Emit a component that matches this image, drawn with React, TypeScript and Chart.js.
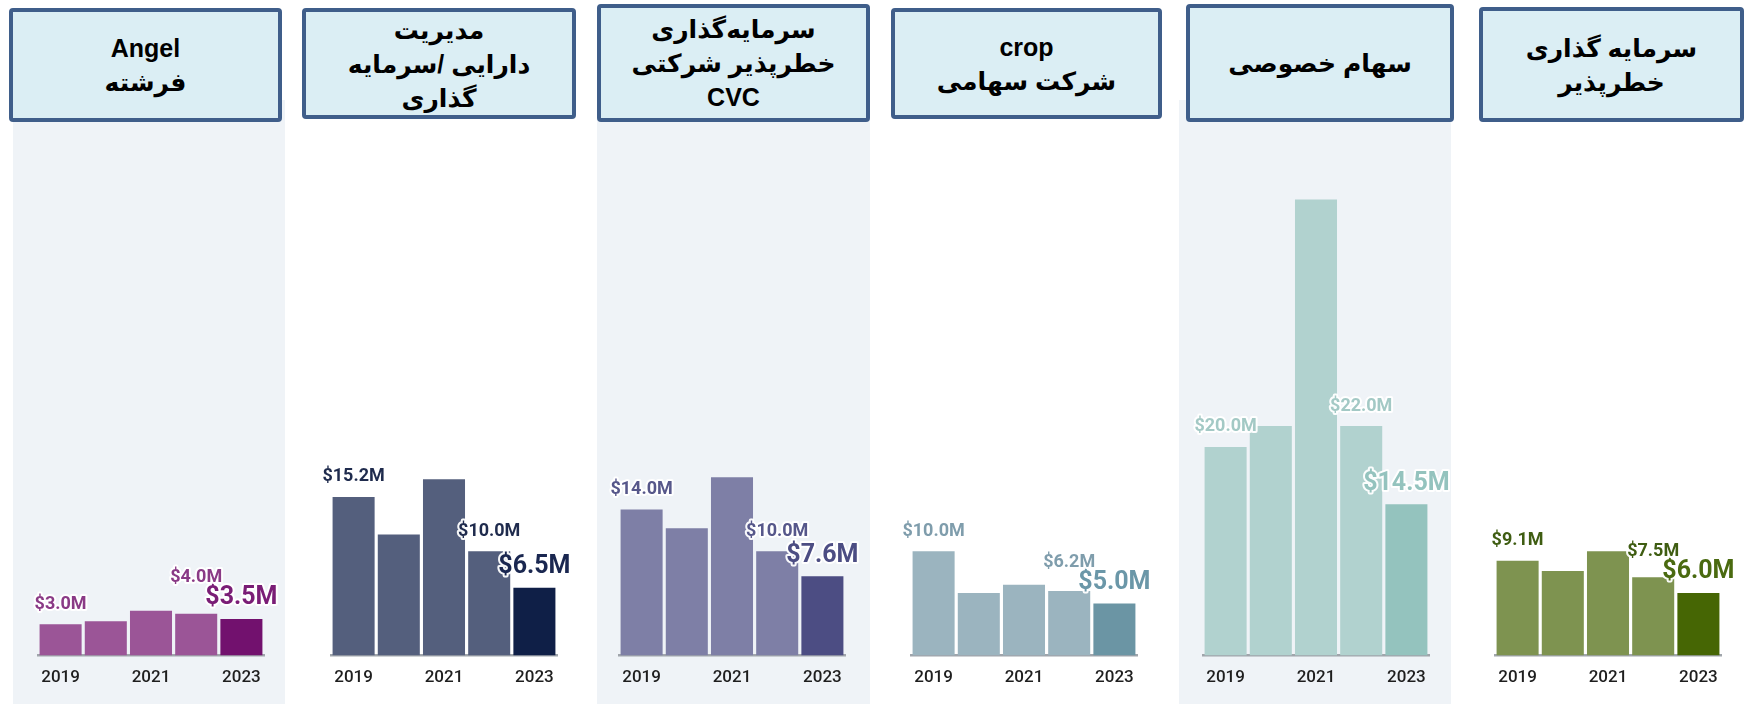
import React, { useEffect, useRef } from 'react';
import { Chart, registerables } from 'chart.js';

Chart.register(...registerables);

// ---------- data ----------
const years = ['2019', '2020', '2021', '2022', '2023'];
const shownYearIndices = [0, 2, 4];
const labeledIndices = [0, 3, 4];

const angelValues = [3.0, 3.3, 4.3, 4.0, 3.5];
const assetManagementValues = [15.2, 11.6, 16.9, 10.0, 6.5];
const cvcValues = [14.0, 12.2, 17.1, 10.0, 7.6];
const corpValues = [10.0, 6.0, 6.8, 6.2, 5.0];
const privateEquityValues = [20.0, 22.0, 43.7, 22.0, 14.5];
const ventureValues = [9.1, 8.1, 10.0, 7.5, 6.0];

const angelTitle = ['Angel', 'فرشته'];
const assetManagementTitle = ['مدیریت', 'دارایی /سرمایه', 'گذاری'];
const cvcTitle = ['سرمایه‌گذاری', 'خطرپذیر شرکتی', 'CVC'];
const corpTitle = ['crop', 'شرکت سهامی'];
const privateEquityTitle = ['سهام خصوصی'];
const ventureTitle = ['سرمایه گذاری', 'خطرپذیر'];

const Y_MAX = 45;

// ---------- layout / style ----------
type Panel = {
  values: number[];
  title: string[];
  bar: string;
  last: string;
  label: string;
  bigLabel: string;
  areaLeft: number;
  box: { x: number; y: number; w: number; h: number };
  shade: { x: number; w: number } | null;
};

const panels: Panel[] = [
  { values: angelValues, title: angelTitle, bar: '#9b5597', last: '#72116e', label: '#8a3a86', bigLabel: '#7a1d76',
    areaLeft: 38, box: { x: 9, y: 8, w: 273, h: 114 }, shade: { x: 13, w: 272 } },
  { values: assetManagementValues, title: assetManagementTitle, bar: '#545f7d', last: '#0f1f47', label: '#1f2b4d', bigLabel: '#1a2750',
    areaLeft: 331, box: { x: 302, y: 8, w: 274, h: 111 }, shade: null },
  { values: cvcValues, title: cvcTitle, bar: '#7e7fa6', last: '#4c4d83', label: '#56578a', bigLabel: '#4c4d83',
    areaLeft: 619, box: { x: 597, y: 4, w: 273, h: 118 }, shade: { x: 597, w: 273 } },
  { values: corpValues, title: corpTitle, bar: '#9bb4bf', last: '#6b95a4', label: '#7f9dac', bigLabel: '#6b97a8',
    areaLeft: 911, box: { x: 891, y: 8, w: 271, h: 111 }, shade: null },
  { values: privateEquityValues, title: privateEquityTitle, bar: '#b1d2cf', last: '#94c3be', label: '#a3c9c5', bigLabel: '#94c3be',
    areaLeft: 1203, box: { x: 1186, y: 4, w: 268, h: 118 }, shade: { x: 1179, w: 272 } },
  { values: ventureValues, title: ventureTitle, bar: '#7e9350', last: '#466604', label: '#3f5d12', bigLabel: '#4a6a10',
    areaLeft: 1495, box: { x: 1479, y: 7, w: 265, h: 115 }, shade: null },
];

const AREA_WIDTH = 226;
const SIDE_PAD = 32;
const CANVAS_TOP = 150;
const CANVAS_HEIGHT = 554;

const valueLabelPlugin = {
  id: 'valueLabels',
  afterDatasetsDraw(chart: any, _args: any, opts: any) {
    const ctx = chart.ctx;
    const meta = chart.getDatasetMeta(0);
    const data = chart.data.datasets[0].data as number[];
    const boxes: { x1: number; x2: number; y1: number; y2: number }[] = [];
    const order = [...labeledIndices].sort((a, b) => b - a);
    for (const i of order) {
      const bar = meta.data[i];
      const big = i === data.length - 1;
      const size = big ? 25 : 18;
      ctx.save();
      ctx.font = `bold ${size}px Roboto`;
      const text = `$${data[i].toFixed(1)}M`;
      const w = ctx.measureText(text).width;
      const h = size * 0.8;
      let cy = bar.y - (big ? 21 : 20);
      for (const b of boxes) {
        const ox = bar.x - w / 2 < b.x2 && bar.x + w / 2 > b.x1;
        if (ox && cy + h / 2 > b.y1 - 2 && cy - h / 2 < b.y2) cy = b.y1 - 3 - h / 2;
      }
      boxes.push({ x1: bar.x - w / 2, x2: bar.x + w / 2, y1: cy - h / 2, y2: cy + h / 2 });
      ctx.textAlign = 'center';
      ctx.textBaseline = 'middle';
      ctx.lineJoin = 'round';
      ctx.strokeStyle = 'rgba(255,255,255,0.95)';
      ctx.lineWidth = 4;
      ctx.strokeText(text, bar.x, cy);
      ctx.fillStyle = big ? opts.bigColor : opts.color;
      ctx.fillText(text, bar.x, cy);
      ctx.restore();
    }
  },
};

function PanelChart({ panel }: { panel: Panel }) {
  const ref = useRef<HTMLCanvasElement>(null);
  useEffect(() => {
    if (!ref.current) return;
    const colors = panel.values.map((_, i) => (i === panel.values.length - 1 ? panel.last : panel.bar));
    const chart = new Chart(ref.current, {
      type: 'bar',
      data: {
        labels: years,
        datasets: [
          {
            data: panel.values,
            backgroundColor: colors,
            borderWidth: 0,
            barPercentage: 0.93,
            categoryPercentage: 1.0,
          },
        ],
      },
      options: {
        animation: false,
        responsive: false,
        maintainAspectRatio: false,
        layout: { padding: { left: SIDE_PAD, right: SIDE_PAD, top: 36, bottom: 4 } },
        plugins: {
          legend: { display: false },
          tooltip: { enabled: false },
          valueLabels: { color: panel.label, bigColor: panel.bigLabel },
        } as any,
        scales: {
          x: {
            grid: { display: false, drawTicks: false },
            border: { display: true, color: '#a0a5ab', width: 2.5 },
            ticks: {
              autoSkip: false,
              maxRotation: 0,
              padding: 12,
              color: '#1e1e1e',
              font: { family: 'Roboto', size: 17, weight: '500' },
              callback: (_v: any, i: number) => (shownYearIndices.includes(i) ? years[i] : ''),
            },
          },
          y: { display: false, min: 0, max: Y_MAX },
        },
      },
      plugins: [valueLabelPlugin],
    });
    return () => chart.destroy();
  }, [panel]);
  return (
    <canvas
      ref={ref}
      width={AREA_WIDTH + SIDE_PAD * 2}
      height={CANVAS_HEIGHT}
      style={{ position: 'absolute', left: panel.areaLeft - SIDE_PAD, top: CANVAS_TOP, width: AREA_WIDTH + SIDE_PAD * 2, height: CANVAS_HEIGHT }}
    />
  );
}

export default function App() {
  return (
    <div style={{ position: 'absolute', left: 0, top: 0, width: 1746, height: 704, background: '#ffffff', overflow: 'hidden' }}>
      {panels.map((p, i) =>
        p.shade ? (
          <div key={'s' + i} style={{ position: 'absolute', left: p.shade.x, top: 100, width: p.shade.w, height: 604, background: '#eff3f7' }} />
        ) : null
      )}
      {panels.map((p, i) => (
        <div
          key={'b' + i}
          style={{
            position: 'absolute',
            left: p.box.x,
            top: p.box.y,
            width: p.box.w,
            height: p.box.h,
            boxSizing: 'border-box',
            background: '#dbeef4',
            border: '4px solid #3f5e8a',
            borderRadius: 4,
            display: 'flex',
            flexDirection: 'column',
            justifyContent: 'center',
            alignItems: 'center',
            fontFamily: '"Liberation Sans", "DejaVu Sans", sans-serif',
            fontWeight: 'bold',
            fontSize: 25,
            lineHeight: '34px',
            color: '#000000',
            textAlign: 'center',
          }}
        >
          {p.title.map((t, j) => (
            <div key={j}>{t}</div>
          ))}
        </div>
      ))}
      {panels.map((p, i) => (
        <PanelChart key={'c' + i} panel={p} />
      ))}
    </div>
  );
}
